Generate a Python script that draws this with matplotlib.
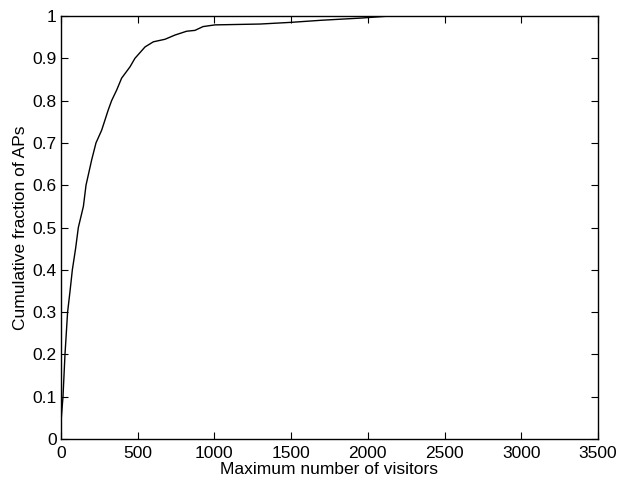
import matplotlib
matplotlib.use("Agg")
import matplotlib.pyplot as plt

plt.rcParams['font.family'] = ['Liberation Sans', 'DejaVu Sans']

# max visitors vs cumulative fraction
visitors = [0, 2, 13, 26, 43, 59, 74, 95, 113, 146, 163, 200, 228, 265, 308,
            330, 363, 395, 450, 482, 548, 602, 678, 743, 819, 873, 926, 1004,
            1297, 1500, 1700, 1950, 2145, 2600, 3350]
frac = [0, 0.05, 0.1, 0.2, 0.3, 0.35, 0.4, 0.45, 0.5, 0.55, 0.6, 0.66, 0.7,
        0.73, 0.778, 0.8, 0.825, 0.853, 0.88, 0.9, 0.927, 0.939, 0.945, 0.955,
        0.964, 0.966, 0.975, 0.979, 0.981, 0.985, 0.99, 0.995, 1.0, 1.0, 1.0]

xticks = [0, 500, 1000, 1500, 2000, 2500, 3000, 3500]
yticks = [0, 0.1, 0.2, 0.3, 0.4, 0.5, 0.6, 0.7, 0.8, 0.9, 1]
ytick_labels = ['0', '0.1', '0.2', '0.3', '0.4', '0.5', '0.6', '0.7', '0.8', '0.9', '1']

fig = plt.figure(figsize=(6.2, 4.84), dpi=100)
ax = fig.add_axes([61/620, 45/484, 537/620, 423/484])

ax.plot(visitors, frac, color='black', linewidth=1.0)

ax.set_xlim(0, 3500)
ax.set_ylim(0, 1)
ax.set_xticks(xticks)
ax.set_xticklabels([str(t) for t in xticks])
ax.set_yticks(yticks)
ax.set_yticklabels(ytick_labels)
ax.tick_params(direction='in', top=True, right=True, length=5, width=0.8,
               labelsize=12.5)
ax.tick_params(axis='x', pad=5)
ax.tick_params(axis='y', pad=3)
for s in ax.spines.values():
    s.set_linewidth(1.0)

ax.set_xlabel('Maximum number of visitors', fontsize=12.5, labelpad=1)
ax.set_ylabel('Cumulative fraction of APs', fontsize=12.5, labelpad=3)

fig.savefig('out.png', dpi=100)
